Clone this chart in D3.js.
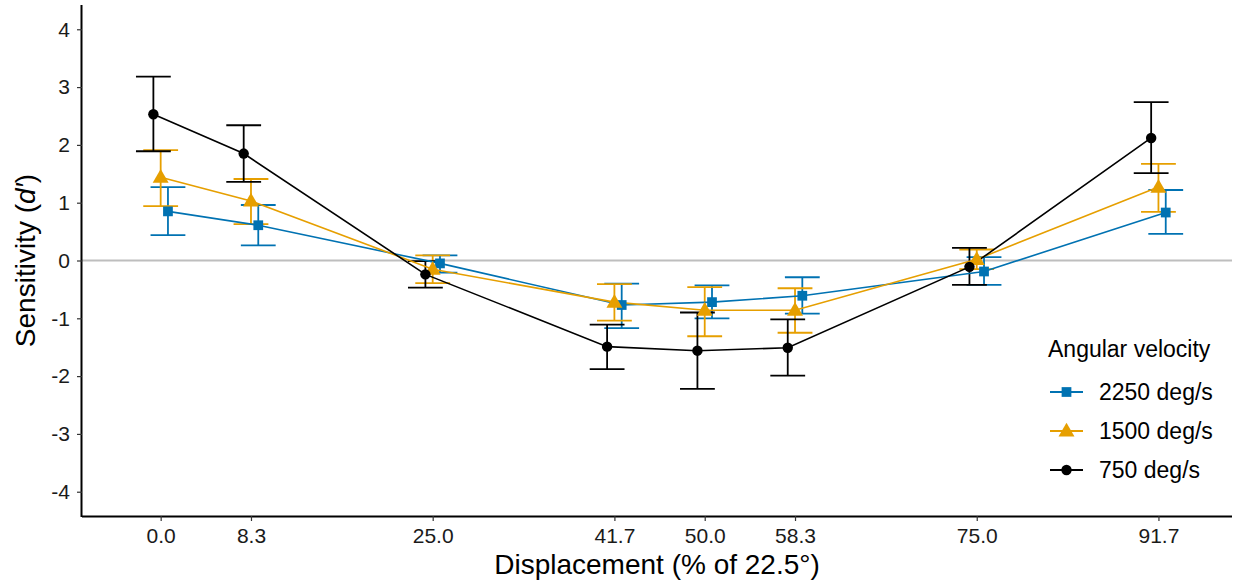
<!DOCTYPE html>
<html>
<head>
<meta charset="utf-8">
<script src="https://cdn.jsdelivr.net/npm/d3@7"></script>
<style>
  html, body { margin: 0; padding: 0; background: #fff; }
  svg { display: block; font-family: "Liberation Sans", Arial, sans-serif; }
</style>
</head>
<body>
<svg id="chart" width="1238" height="581"></svg>
<script>
// Displacement levels (% of 22.5°)
const displacement = [0.0, 8.3, 25.0, 41.7, 50.0, 58.3, 75.0, 91.7];
const tickLabels = ["0.0", "8.3", "25.0", "41.7", "50.0", "58.3", "75.0", "91.7"];
const yTicks = [-4, -3, -2, -1, 0, 1, 2, 3, 4];

// Series: angular velocity conditions
const seriesNames = ["2250 deg/s", "1500 deg/s", "750 deg/s"];

// Mean d' per displacement
const dprime2250 = [0.85, 0.61, -0.05, -0.77, -0.72, -0.61, -0.19, 0.83];
const dprime1500 = [1.44, 1.03, -0.15, -0.72, -0.86, -0.86, 0.02, 1.27];
const dprime750  = [2.53, 1.85, -0.24, -1.49, -1.56, -1.51, -0.11, 2.12];

// Error bar limits
const lower2250 = [0.44, 0.26, -0.21, -1.17, -1.00, -0.92, -0.42, 0.46];
const upper2250 = [1.27, 0.96, 0.09, -0.40, -0.43, -0.29, 0.06, 1.22];
const lower1500 = [0.94, 0.63, -0.39, -1.04, -1.31, -1.25, -0.15, 0.84];
const upper1500 = [1.91, 1.41, 0.09, -0.41, -0.46, -0.48, 0.19, 1.67];
const lower750  = [1.89, 1.36, -0.47, -1.88, -2.22, -1.99, -0.42, 1.51];
const upper750  = [3.18, 2.34, -0.01, -1.11, -0.90, -1.02, 0.22, 2.74];

const colors = ["#0072B2", "#E69F00", "#000000"];
const shapes = [d3.symbolSquare, d3.symbolTriangle, d3.symbolCircle];
const symbolSizes = [95, 110, 85];
const dodge = [0.67, 0, -0.67];

const series = [
  { name: seriesNames[0], mean: dprime2250, lo: lower2250, hi: upper2250 },
  { name: seriesNames[1], mean: dprime1500, lo: lower1500, hi: upper1500 },
  { name: seriesNames[2], mean: dprime750,  lo: lower750,  hi: upper750 }
].map((s, i) => ({
  ...s, color: colors[i], shape: shapes[i], size: symbolSizes[i], dx: dodge[i],
  points: displacement.map((d, j) => ({ x: d + dodge[i], y: s.mean[j], lo: s.lo[j], hi: s.hi[j] }))
}));

const svg = d3.select("#chart");
const plot = { left: 82, right: 1232, top: 5, bottom: 516 };

const x = d3.scaleLinear().domain([-7.23, 98.46]).range([plot.left, plot.right]);
const y = d3.scaleLinear().domain([-4.42, 4.42]).range([plot.bottom, plot.top]);

// Reference line at d' = 0
svg.append("line")
  .attr("x1", plot.left).attr("x2", plot.right)
  .attr("y1", y(0)).attr("y2", y(0))
  .attr("stroke", "#BEBEBE").attr("stroke-width", 2);

// Axes
const yAxis = d3.axisLeft(y).tickValues(yTicks).tickFormat(d => String(d)).tickSize(5).tickPadding(7);
const gy = svg.append("g").attr("transform", `translate(${plot.left},0)`).call(yAxis);
const xAxis = d3.axisBottom(x).tickValues(displacement).tickFormat((d, i) => tickLabels[i]).tickSize(5).tickPadding(7);
const gx = svg.append("g").attr("transform", `translate(0,${plot.bottom})`).call(xAxis);

[gx, gy].forEach(g => {
  g.select(".domain").attr("stroke", "#000").attr("stroke-width", 2);
  g.selectAll(".tick line").attr("stroke", "#333").attr("stroke-width", 1.2);
  g.selectAll(".tick text").attr("fill", "#1a1a1a").style("font-size", "21px").style("font-family", "'Liberation Sans', Arial, sans-serif");
});
gx.select(".domain").attr("d", `M${plot.left},0.5H${plot.right}`);
gy.select(".domain").attr("d", `M-0.5,${plot.top}V${plot.bottom + 1}`);

// Axis titles
svg.append("text")
  .attr("x", (plot.left + plot.right) / 2).attr("y", 574)
  .attr("text-anchor", "middle").attr("fill", "#000")
  .style("font-size", "28px")
  .text("Displacement (% of 22.5°)");

const yTitle = svg.append("text")
  .attr("transform", `translate(35,${y(0)}) rotate(-90)`)
  .attr("text-anchor", "middle").attr("fill", "#000")
  .style("font-size", "28px");
yTitle.append("tspan").text("Sensitivity (");
yTitle.append("tspan").style("font-style", "italic").text("d′");
yTitle.append("tspan").text(")");

const capHalf = 1.6;

// Error bars
series.forEach(s => {
  const g = svg.append("g").attr("stroke", s.color).attr("stroke-width", 1.8).attr("fill", "none");
  s.points.forEach(p => {
    g.append("line").attr("x1", x(p.x)).attr("x2", x(p.x)).attr("y1", y(p.lo)).attr("y2", y(p.hi));
    g.append("line").attr("x1", x(p.x - capHalf)).attr("x2", x(p.x + capHalf)).attr("y1", y(p.lo)).attr("y2", y(p.lo));
    g.append("line").attr("x1", x(p.x - capHalf)).attr("x2", x(p.x + capHalf)).attr("y1", y(p.hi)).attr("y2", y(p.hi));
  });
});

// Connecting lines
const line = d3.line().x(p => x(p.x)).y(p => y(p.y));
series.forEach(s => {
  svg.append("path").datum(s.points)
    .attr("d", line).attr("fill", "none")
    .attr("stroke", s.color).attr("stroke-width", 1.6);
});

// Point markers
series.forEach(s => {
  const sym = d3.symbol().type(s.shape).size(s.size);
  svg.append("g").selectAll("path").data(s.points).join("path")
    .attr("d", sym)
    .attr("transform", p => `translate(${x(p.x)},${y(p.y) + (s.shape === d3.symbolTriangle ? 1 : 0)})`)
    .attr("fill", s.color);
});

// Legend
const legend = svg.append("g").attr("transform", "translate(1048,0)");
legend.append("text").attr("x", 0).attr("y", 357)
  .attr("fill", "#000").style("font-size", "23px").text("Angular velocity");
series.forEach((s, i) => {
  const ly = 392 + i * 39;
  legend.append("line").attr("x1", 2).attr("x2", 35).attr("y1", ly).attr("y2", ly)
    .attr("stroke", s.color).attr("stroke-width", 1.8);
  legend.append("path").attr("d", d3.symbol().type(s.shape).size(s.size)())
    .attr("transform", `translate(18.5,${ly + (s.shape === d3.symbolTriangle ? 1 : 0)})`)
    .attr("fill", s.color);
  legend.append("text").attr("x", 51).attr("y", ly + 8)
    .attr("fill", "#000").style("font-size", "23px").text(s.name);
});
</script>
</body>
</html>
